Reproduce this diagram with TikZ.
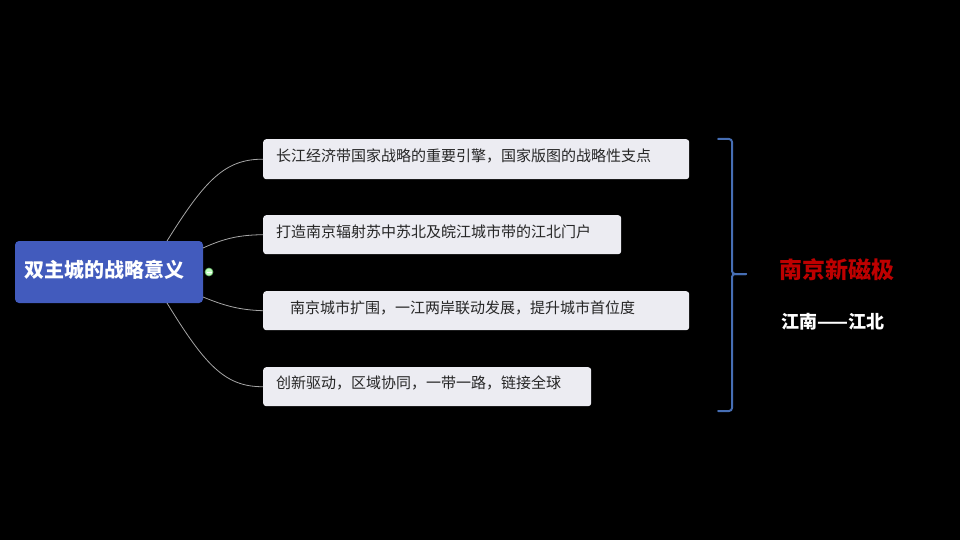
\documentclass[tikz,border=0pt]{standalone}
\usepackage{fontspec}
\newfontfamily\cjk{Noto Sans CJK SC}
\definecolor{rootblue}{RGB}{66,91,189}
\definecolor{bracecol}{RGB}{70,110,180}
\definecolor{leafbg}{RGB}{236,236,242}
\definecolor{titlered}{RGB}{190,0,0}
\begin{document}
\begin{tikzpicture}[x=1pt,y=-1pt,
 leaf/.style={draw=none,fill=leafbg,rounded corners=3pt,anchor=north west,inner sep=0pt},
 lt/.style={font=\cjk\fontsize{15}{17}\selectfont,text=black!85,anchor=west,inner sep=0pt},
 conn/.style={draw=gray!70,line width=0.8pt}]
\fill[black] (0,0) rectangle (960,540);
\useasboundingbox (0,0) rectangle (960,540);
\node[fill=rootblue,rounded corners=4pt,minimum width=188pt,minimum height=62pt,text=white,font=\cjk\bfseries\fontsize{20}{22}\selectfont,inner sep=0pt] (root) at (109,272) {};
\node[text=white,font=\cjk\bfseries\fontsize{20}{22}\selectfont,anchor=west,inner sep=0pt] (rt) at (24,270) {双主城的战略意义};
\node[leaf,minimum width=426pt,minimum height=40pt] (b1) at (263,139) {};
\node[lt] (t1) at (276,156) {长江经济带国家战略的重要引擎，国家版图的战略性支点};
\node[leaf,minimum width=358pt,minimum height=39pt] (b2) at (263,215) {};
\node[lt] (t2) at (276,232) {打造南京辐射苏中苏北及皖江城市带的江北门户};
\node[leaf,minimum width=426pt,minimum height=39pt] (b3) at (263,291) {};
\node[lt] (t3) at (290,308) {南京城市扩围，一江两岸联动发展，提升城市首位度};
\node[leaf,minimum width=328pt,minimum height=39pt] (b4) at (263,367) {};
\node[lt] (t4) at (276,383) {创新驱动，区域协同，一带一路，链接全球};
\draw[conn] (167,241) .. controls (205,180) and (225,159) .. (b1.west);
\draw[conn] (203,248) .. controls (225,238) and (240,235) .. (b2.west);
\draw[conn] (203,297) .. controls (225,306) and (240,310) .. (b3.west);
\draw[conn] (167,303) .. controls (205,365) and (225,387) .. (b4.west);
\node[circle,draw=green!50!black!60,fill=green!25,line width=0.6pt,inner sep=0pt,minimum size=8pt] (c) at (209,272) {};
\draw[white,line width=0.6pt] (206.5,272) -- (211.5,272);
\coordinate (bt) at (718,139);
\coordinate (bb) at (718,411);
\draw[bracecol,line width=2pt,line cap=round,rounded corners=3pt] (bt) -- (732,139) -- (732,274) -- (746,274);
\draw[bracecol,line width=2pt,line cap=round,rounded corners=3pt] (746,274) -- (732,274) -- (732,411) -- (bb);
\node[font=\cjk\bfseries\fontsize{23}{25}\selectfont,text=titlered,anchor=west,inner sep=0pt] (m) at (779,270) {南京新磁极};
\node[font=\cjk\bfseries\fontsize{18}{20}\selectfont,text=white,anchor=west,inner sep=0pt] (s) at (781,322) {江南——江北};
\end{tikzpicture}
\end{document}
